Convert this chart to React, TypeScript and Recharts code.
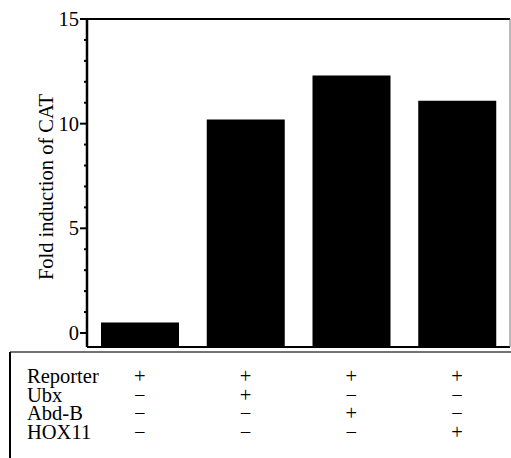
import React from 'react';
import { BarChart, Bar, XAxis, YAxis, ReferenceLine } from 'recharts';

const categories = ['Reporter', 'Reporter+Ubx', 'Reporter+Abd-B', 'Reporter+HOX11'];
const foldInduction = [0.5, 10.2, 12.3, 11.1];
const yTicks = [0, 1, 2, 3, 4, 5, 6, 7, 8, 9, 10, 11, 12, 13, 14, 15];
const majorTicks = [0, 5, 10, 15];
const Y_MIN = -0.67;
const Y_MAX = 15;

const rowLabels = ['Reporter', 'Ubx', 'Abd-B', 'HOX11'];
const reporterRow = ['+', '+', '+', '+'];
const ubxRow = ['\u2212', '+', '\u2212', '\u2212'];
const abdBRow = ['\u2212', '\u2212', '+', '\u2212'];
const hox11Row = ['\u2212', '\u2212', '\u2212', '+'];
const tableRows = [reporterRow, ubxRow, abdBRow, hox11Row];

const FONT = '"Liberation Serif", "Times New Roman", serif';

const data = categories.map((c, i) => ({
  name: c,
  range: [Y_MIN, foldInduction[i]],
  idx: i,
}));

const ROW_OFFSETS = [36, 54.5, 73, 91.5];

const YTick = (props: any) => {
  const { x, y, payload } = props;
  const major = majorTicks.includes(payload.value);
  return (
    <g>
      <line x1={x - (major ? 7 : 3)} x2={x} y1={y} y2={y} stroke="#000" strokeWidth={2} />
      {major && (
        <text x={x - 8} y={y} dy={7} textAnchor="end" fontFamily={FONT} fontSize={20.5} fill="#000">
          {payload.value}
        </text>
      )}
    </g>
  );
};

const XTick = (props: any) => {
  const { x, y, index } = props;
  return (
    <g>
      {tableRows.map((row, r) => (
        <text
          key={r}
          x={x}
          y={y + ROW_OFFSETS[r]}
          textAnchor="middle"
          fontFamily={FONT}
          fontSize={20.5}
          fill="#000"
        >
          {row[index]}
        </text>
      ))}
    </g>
  );
};

const YLabel = (props: any) => {
  const { viewBox } = props;
  const cx = 53;
  const cy = viewBox.y + viewBox.height / 2 + 4;
  return (
    <text
      x={cx}
      y={cy}
      textAnchor="middle"
      fontFamily={FONT}
      fontSize={20.5}
      fill="#000"
      transform={`rotate(-90, ${cx}, ${cy})`}
    >
      Fold induction of CAT
    </text>
  );
};

export default function App() {
  return (
    <div style={{ position: 'absolute', left: 0, top: 0, width: 511, height: 458, background: '#fff' }}>
      <BarChart
        width={511}
        height={458}
        data={data}
        margin={{ top: 19, right: 0, bottom: 0, left: 0 }}
      >
        <XAxis
          dataKey="name"
          height={111}
          tickLine={false}
          tickSize={0}
          tickMargin={0}
          axisLine={{ stroke: '#000', strokeWidth: 2 }}
          tick={<XTick />}
          interval={0}
        />
        <YAxis
          yAxisId="left"
          width={87}
          domain={[Y_MIN, Y_MAX]}
          ticks={yTicks}
          interval={0}
          allowDataOverflow
          tickLine={false}
          tickSize={0}
          tickMargin={0}
          axisLine={{ stroke: '#000', strokeWidth: 2.5 }}
          tick={<YTick />}
          label={<YLabel />}
        />
        <YAxis
          yAxisId="right"
          orientation="right"
          width={1}
          domain={[Y_MIN, Y_MAX]}
          tick={false}
          tickLine={false}
          axisLine={{ stroke: '#777', strokeWidth: 1 }}
        />
        <ReferenceLine yAxisId="left" y={Y_MAX} stroke="#000" strokeWidth={2} />
        <Bar yAxisId="left" dataKey="range" fill="#000" barSize={78} isAnimationActive={false} />
      </BarChart>
      <svg
        width={511}
        height={458}
        style={{ position: 'absolute', left: 0, top: 0, pointerEvents: 'none' }}
      >
        <line x1={10} y1={352} x2={511} y2={352} stroke="#444" strokeWidth={1.5} />
        <line x1={10} y1={352} x2={10} y2={458} stroke="#000" strokeWidth={2} />
        {rowLabels.map((l, r) => (
          <text key={l} x={27} y={347 + ROW_OFFSETS[r]} fontFamily={FONT} fontSize={20.5} fill="#000">
            {l}
          </text>
        ))}
      </svg>
    </div>
  );
}
